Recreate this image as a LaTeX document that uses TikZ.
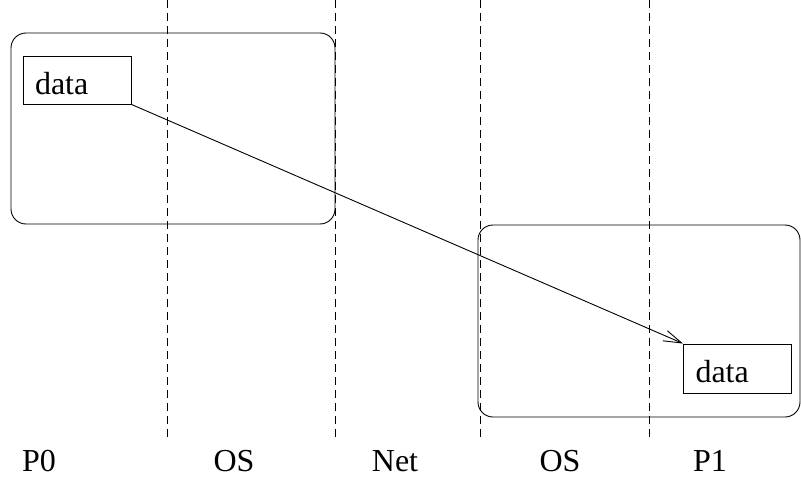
\documentclass[tikz,border=0pt]{standalone}
\usepackage{fontspec}
\setmainfont{Liberation Serif}
\usetikzlibrary{arrows.meta}
\begin{document}
\begin{tikzpicture}[x=1pt,y=-1pt,
  every node/.style={font=\fontsize{32}{38}\selectfont},
  host/.style={draw, line width=0.9pt, rounded corners=15pt, inner sep=0pt},
  databox/.style={draw, line width=0.9pt, inner xsep=12pt, text width=84pt, align=left,
    minimum height=48pt, text height=28pt, text depth=0pt},
  divider/.style={line width=0.9pt, dash pattern=on 8pt off 5pt},
  zone/.style={anchor=base, inner sep=0pt},
  msg/.style={line width=0.9pt, -{Straight Barb[length=18pt,width=11pt,line width=0.9pt]}}]
\useasboundingbox (0,0) rectangle (801,479);

% process hosts
\node[host, minimum width=324pt, minimum height=191pt] (host0) at (173,128.5) {};
\node[host, minimum width=322pt, minimum height=192pt] (host1) at (639,321) {};

% layer dividers
\coordinate (d1t) at (167,0);   \coordinate (d1b) at (167,440);
\coordinate (d2t) at (335,0);   \coordinate (d2b) at (335,440);
\coordinate (d3t) at (480,0);   \coordinate (d3b) at (480,440);
\coordinate (d4t) at (649,0);   \coordinate (d4b) at (649,440);
\draw[divider] (d1t) -- (d1b);
\draw[divider] (d2t) -- (d2b);
\draw[divider] (d3t) -- (d3b);
\draw[divider] (d4t) -- (d4b);

% data buffers
\node[databox] (data0) at (77,80) {data};
\node[databox, minimum height=49pt] (data1) at (737.5,368.5) {data};

\draw[msg] (data0.south east) -- (data1.north west);

% layer labels
\node[zone] (lp0)  at (39,471)  {P0};
\node[zone] (los0) at (234,471) {OS};
\node[zone] (lnet) at (395,471) {Net};
\node[zone] (los1) at (560,471) {OS};
\node[zone] (lp1)  at (710,471) {P1};
\end{tikzpicture}
\end{document}
